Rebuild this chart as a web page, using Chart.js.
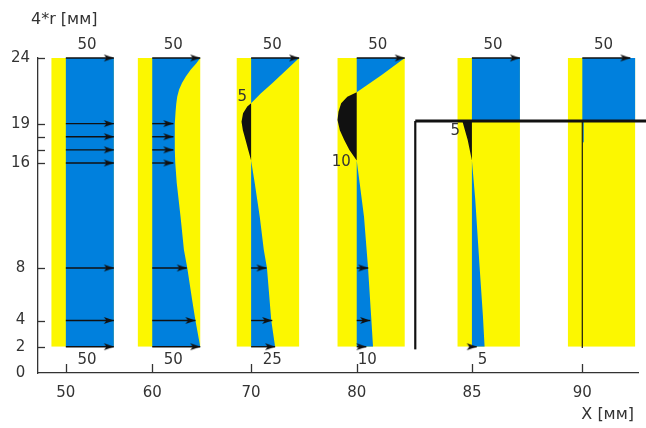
<!DOCTYPE html>
<html>
<head>
<meta charset="utf-8">
<style>
  html, body { margin: 0; padding: 0; background: #fff; }
  canvas { display: block; }
</style>
<script src="https://cdn.jsdelivr.net/npm/chart.js@4.4.1/dist/chart.umd.min.js"></script>
</head>
<body>
<canvas id="c" width="646" height="428"></canvas>
<script>
// ---- data -------------------------------------------------------------
// stations along the channel, X [мм]
const stationLabels = ['50', '60', '70', '80', '85', '90'];

// radius ticks, 4*r [мм]
const rTicks = [0, 2, 4, 8, 16, 19, 24];
const rMinorTicks = [17, 18];

// velocity profiles: heights (4*r) and speeds; negative = reverse flow
const y50 = [2, 24];
const u50 = [50, 50];
const y60 = [2, 4, 5.6, 8, 9.4, 11.9, 14.5, 16, 17, 18, 19, 19.9, 20.5, 21.05, 21.6, 22.1, 22.6, 23.1, 23.6, 24];
const u60 = [50, 45, 41.5, 36.5, 33, 29.5, 25.5, 24, 23.5, 23.4, 23.6, 24.3, 25, 26, 28, 31, 35, 40, 46, 50];
const y70 = [2, 4, 8, 9.4, 11.9, 14.45, 16.2, 17, 17.75, 18.5, 19.15, 19.8, 20.3, 20.55, 21.3, 22.07, 23.1, 24];
const u70 = [25, 21, 16.5, 13.2, 9, 3.8, 0, -1.5, -2.9, -4.3, -5, -4.2, -2, 0, 10, 22, 37, 50];
const y80 = [2, 4, 8, 11.9, 14.45, 16.2, 17, 17.75, 18.5, 19.28, 19.9, 20.55, 21.05, 21.4, 22.7, 24];
const u80 = [17, 15.3, 11.8, 7.6, 3.1, 0, -3.8, -6.5, -8.8, -10, -9.5, -8.1, -4.9, 0, 26, 50];
const y85 = [2, 4.3, 8.1, 13.2, 16.2, 17.75, 19.2, 19.2, 24];
const u85 = [13.2, 11.5, 8, 3.5, 0, -2.2, -5, 50, 50];
const y90 = [2, 17.5, 17.6, 19.2, 19.2, 24];
const u90 = [0, 0, 1.5, 1.5, 55, 55];

// velocity arrows: heights and lengths
const arrowY50 = [2, 4, 8, 16, 17, 18, 19, 24];
const arrowU50 = [50, 50, 50, 50, 50, 50, 50, 50];
const arrowY60 = [2, 4, 8, 16, 17, 18, 19, 24];
const arrowU60 = [50, 45, 36, 22, 22, 22, 22, 50];
const arrowY70 = [2, 4, 8, 24];
const arrowU70 = [25, 22, 16, 50];
const arrowY80 = [2, 4, 8, 24];
const arrowU80 = [10, 14, 12, 50];
const arrowY85 = [2, 24];
const arrowU85 = [5, 50];
const arrowY90 = [24];
const arrowU90 = [50];

// step in the channel wall
const stepR = 19.2;

// ---- layout -----------------------------------------------------------
const STATION_POS = [29, 119, 222, 332, 452, 567]; // slot of each station on the x scale
const X_MAX = 625;
const WALL_X = 393;
const REVERSE_GAIN = 2;            // reverse flow is drawn magnified
const REVERSE_LABEL_AT = { 2: [21.0, 4], 3: [16.1, 6], 4: [18.4, 12] };
const FONT = "'DejaVu Sans', sans-serif";
const BLUE = '#0080dd';
const YELLOW = '#fcf700';
const INK = '#111111';
const TEXT = '#333333';
const CLEAR = 'rgba(0,0,0,0)';

const profiles = [
  { y: y50, u: u50, ay: arrowY50, au: arrowU50 },
  { y: y60, u: u60, ay: arrowY60, au: arrowU60 },
  { y: y70, u: u70, ay: arrowY70, au: arrowU70 },
  { y: y80, u: u80, ay: arrowY80, au: arrowU80 },
  { y: y85, u: u85, ay: arrowY85, au: arrowU85 },
  { y: y90, u: u90, ay: arrowY90, au: arrowU90 }
];

// arrowhead sprite, tip sits at the sprite centre
const head = document.createElement('canvas');
head.width = 22; head.height = 9;
(function () {
  const g = head.getContext('2d');
  g.fillStyle = INK;
  g.beginPath();
  g.moveTo(11, 4.5); g.lineTo(1, 1); g.lineTo(3.5, 4.5); g.lineTo(1, 8);
  g.closePath(); g.fill();
})();

const datasets = [];
profiles.forEach((p, i) => {
  const base = STATION_POS[i];
  const minU = Math.min(...p.u);
  const lo = Math.min(-15, REVERSE_GAIN * minU);
  const hi = Math.max(...p.u);
  // channel band
  datasets.push({
    data: [{ x: base + hi, y: 2 }, { x: base + hi, y: 24 }],
    fill: { value: base + lo }, backgroundColor: YELLOW,
    borderColor: CLEAR, borderWidth: 1, pointRadius: 0, order: 50
  });
  // forward flow
  datasets.push({
    data: p.y.map((y, k) => ({ x: base + Math.max(p.u[k], 0), y })),
    fill: { value: base }, backgroundColor: BLUE,
    borderColor: CLEAR, borderWidth: 1, pointRadius: 0, order: 40
  });
  // reverse flow
  if (minU < 0) {
    datasets.push({
      data: p.y.map((y, k) => ({ x: base + REVERSE_GAIN * Math.min(p.u[k], 0), y })),
      fill: { value: base }, backgroundColor: INK,
      borderColor: CLEAR, borderWidth: 1, pointRadius: 0, order: 30
    });
  }
  // arrows
  p.ay.forEach((y, k) => {
    datasets.push({
      data: [{ x: base, y }, { x: base + p.au[k], y }],
      borderColor: INK, borderWidth: 1.4, fill: false, clip: 8,
      pointRadius: [0, 4], pointStyle: head, order: 20
    });
  });
});

// fluid at rest behind the step
datasets.push({
  data: [{ x: STATION_POS[5], y: 1.9 }, { x: STATION_POS[5], y: stepR }],
  borderColor: '#2a2a10', borderWidth: 1.3, fill: false, pointRadius: 0, order: 15
});
// step outline
datasets.push({
  data: [{ x: WALL_X, y: 1.8 }, { x: WALL_X, y: stepR }],
  borderColor: INK, borderWidth: 2.2, fill: false, pointRadius: 0, order: 10, clip: false
});
datasets.push({
  data: [{ x: WALL_X, y: stepR }, { x: 634, y: stepR }],
  borderColor: INK, borderWidth: 3, fill: false, pointRadius: 0, order: 10, clip: false
});

const clampOff = v => Math.max(11, Math.min(22, v));

const decor = {
  id: 'decor',
  afterDraw(chart) {
    const { ctx, chartArea: a } = chart;
    const xs = chart.scales.x, ys = chart.scales.y;
    ctx.save();
    // inward tick marks
    ctx.strokeStyle = '#333'; ctx.lineWidth = 1.3;
    [...rTicks, ...rMinorTicks].filter(v => v > 0).forEach(v => {
      const py = Math.round(ys.getPixelForValue(v)) + 0.5;
      ctx.beginPath(); ctx.moveTo(a.left, py); ctx.lineTo(a.left + 7, py); ctx.stroke();
    });
    STATION_POS.forEach(v => {
      const px = Math.round(xs.getPixelForValue(v)) + 0.5;
      ctx.beginPath(); ctx.moveTo(px, a.bottom); ctx.lineTo(px, a.bottom - 9); ctx.stroke();
    });
    // speed labels
    ctx.fillStyle = TEXT;
    ctx.font = '15px ' + FONT;
    ctx.textBaseline = 'middle';
    ctx.textAlign = 'center';
    profiles.forEach((p, i) => {
      const base = STATION_POS[i];
      p.ay.forEach((y, k) => {
        const v = p.au[k];
        const px = xs.getPixelForValue(base + clampOff(v));
        if (y === 24) ctx.fillText(String(v), px, ys.getPixelForValue(24) - 13);
        if (y === 2) ctx.fillText(String(v), px, ys.getPixelForValue(2) + 13);
      });
    });
    // reverse flow peaks
    ctx.textAlign = 'right';
    profiles.forEach((p, i) => {
      const minU = Math.min(...p.u);
      const at = REVERSE_LABEL_AT[i];
      if (minU < 0 && at) {
        const px = xs.getPixelForValue(STATION_POS[i]) - at[1];
        ctx.fillText(String(Math.round(-minU)), px, ys.getPixelForValue(at[0]));
      }
    });
    // axis titles
    ctx.font = '16px ' + FONT;
    ctx.textAlign = 'left';
    ctx.fillText('4*r [мм]', 31, 20);
    ctx.textAlign = 'right';
    ctx.fillText('X [мм]', 634, 415);
    ctx.restore();
  }
};

new Chart(document.getElementById('c'), {
  type: 'line',
  data: { datasets },
  options: {
    indexAxis: 'y',
    responsive: false,
    animation: false,
    devicePixelRatio: 1,
    events: [],
    layout: { padding: { top: 58, right: 8, left: 0, bottom: 0 } },
    plugins: { legend: { display: false }, tooltip: { enabled: false } },
    elements: { line: { tension: 0 } },
    scales: {
      x: {
        type: 'linear', min: 0, max: X_MAX,
        afterBuildTicks: s => { s.ticks = STATION_POS.map(v => ({ value: v })); },
        afterFit: s => { s.height = 55; },
        grid: { display: true, drawOnChartArea: false, drawTicks: false },
        border: { display: true, color: '#333', width: 1.3 },
        ticks: {
          autoSkip: false, maxRotation: 0, padding: 11,
          color: TEXT, font: { family: FONT, size: 15 },
          callback: (v, i) => stationLabels[i]
        }
      },
      y: {
        type: 'linear', min: 0, max: 24,
        afterBuildTicks: s => {
          s.ticks = [...rTicks, ...rMinorTicks].sort((a, b) => a - b).map(v => ({ value: v }));
        },
        afterFit: s => { s.width = 38; },
        grid: { display: true, drawOnChartArea: false, drawTicks: false },
        border: { display: true, color: '#333', width: 1.3 },
        ticks: {
          autoSkip: false, padding: 8, crossAlign: 'center',
          color: TEXT, font: { family: FONT, size: 15 },
          callback: v => (rTicks.includes(v) ? String(v) : '')
        }
      }
    }
  },
  plugins: [decor]
});
</script>
</body>
</html>
